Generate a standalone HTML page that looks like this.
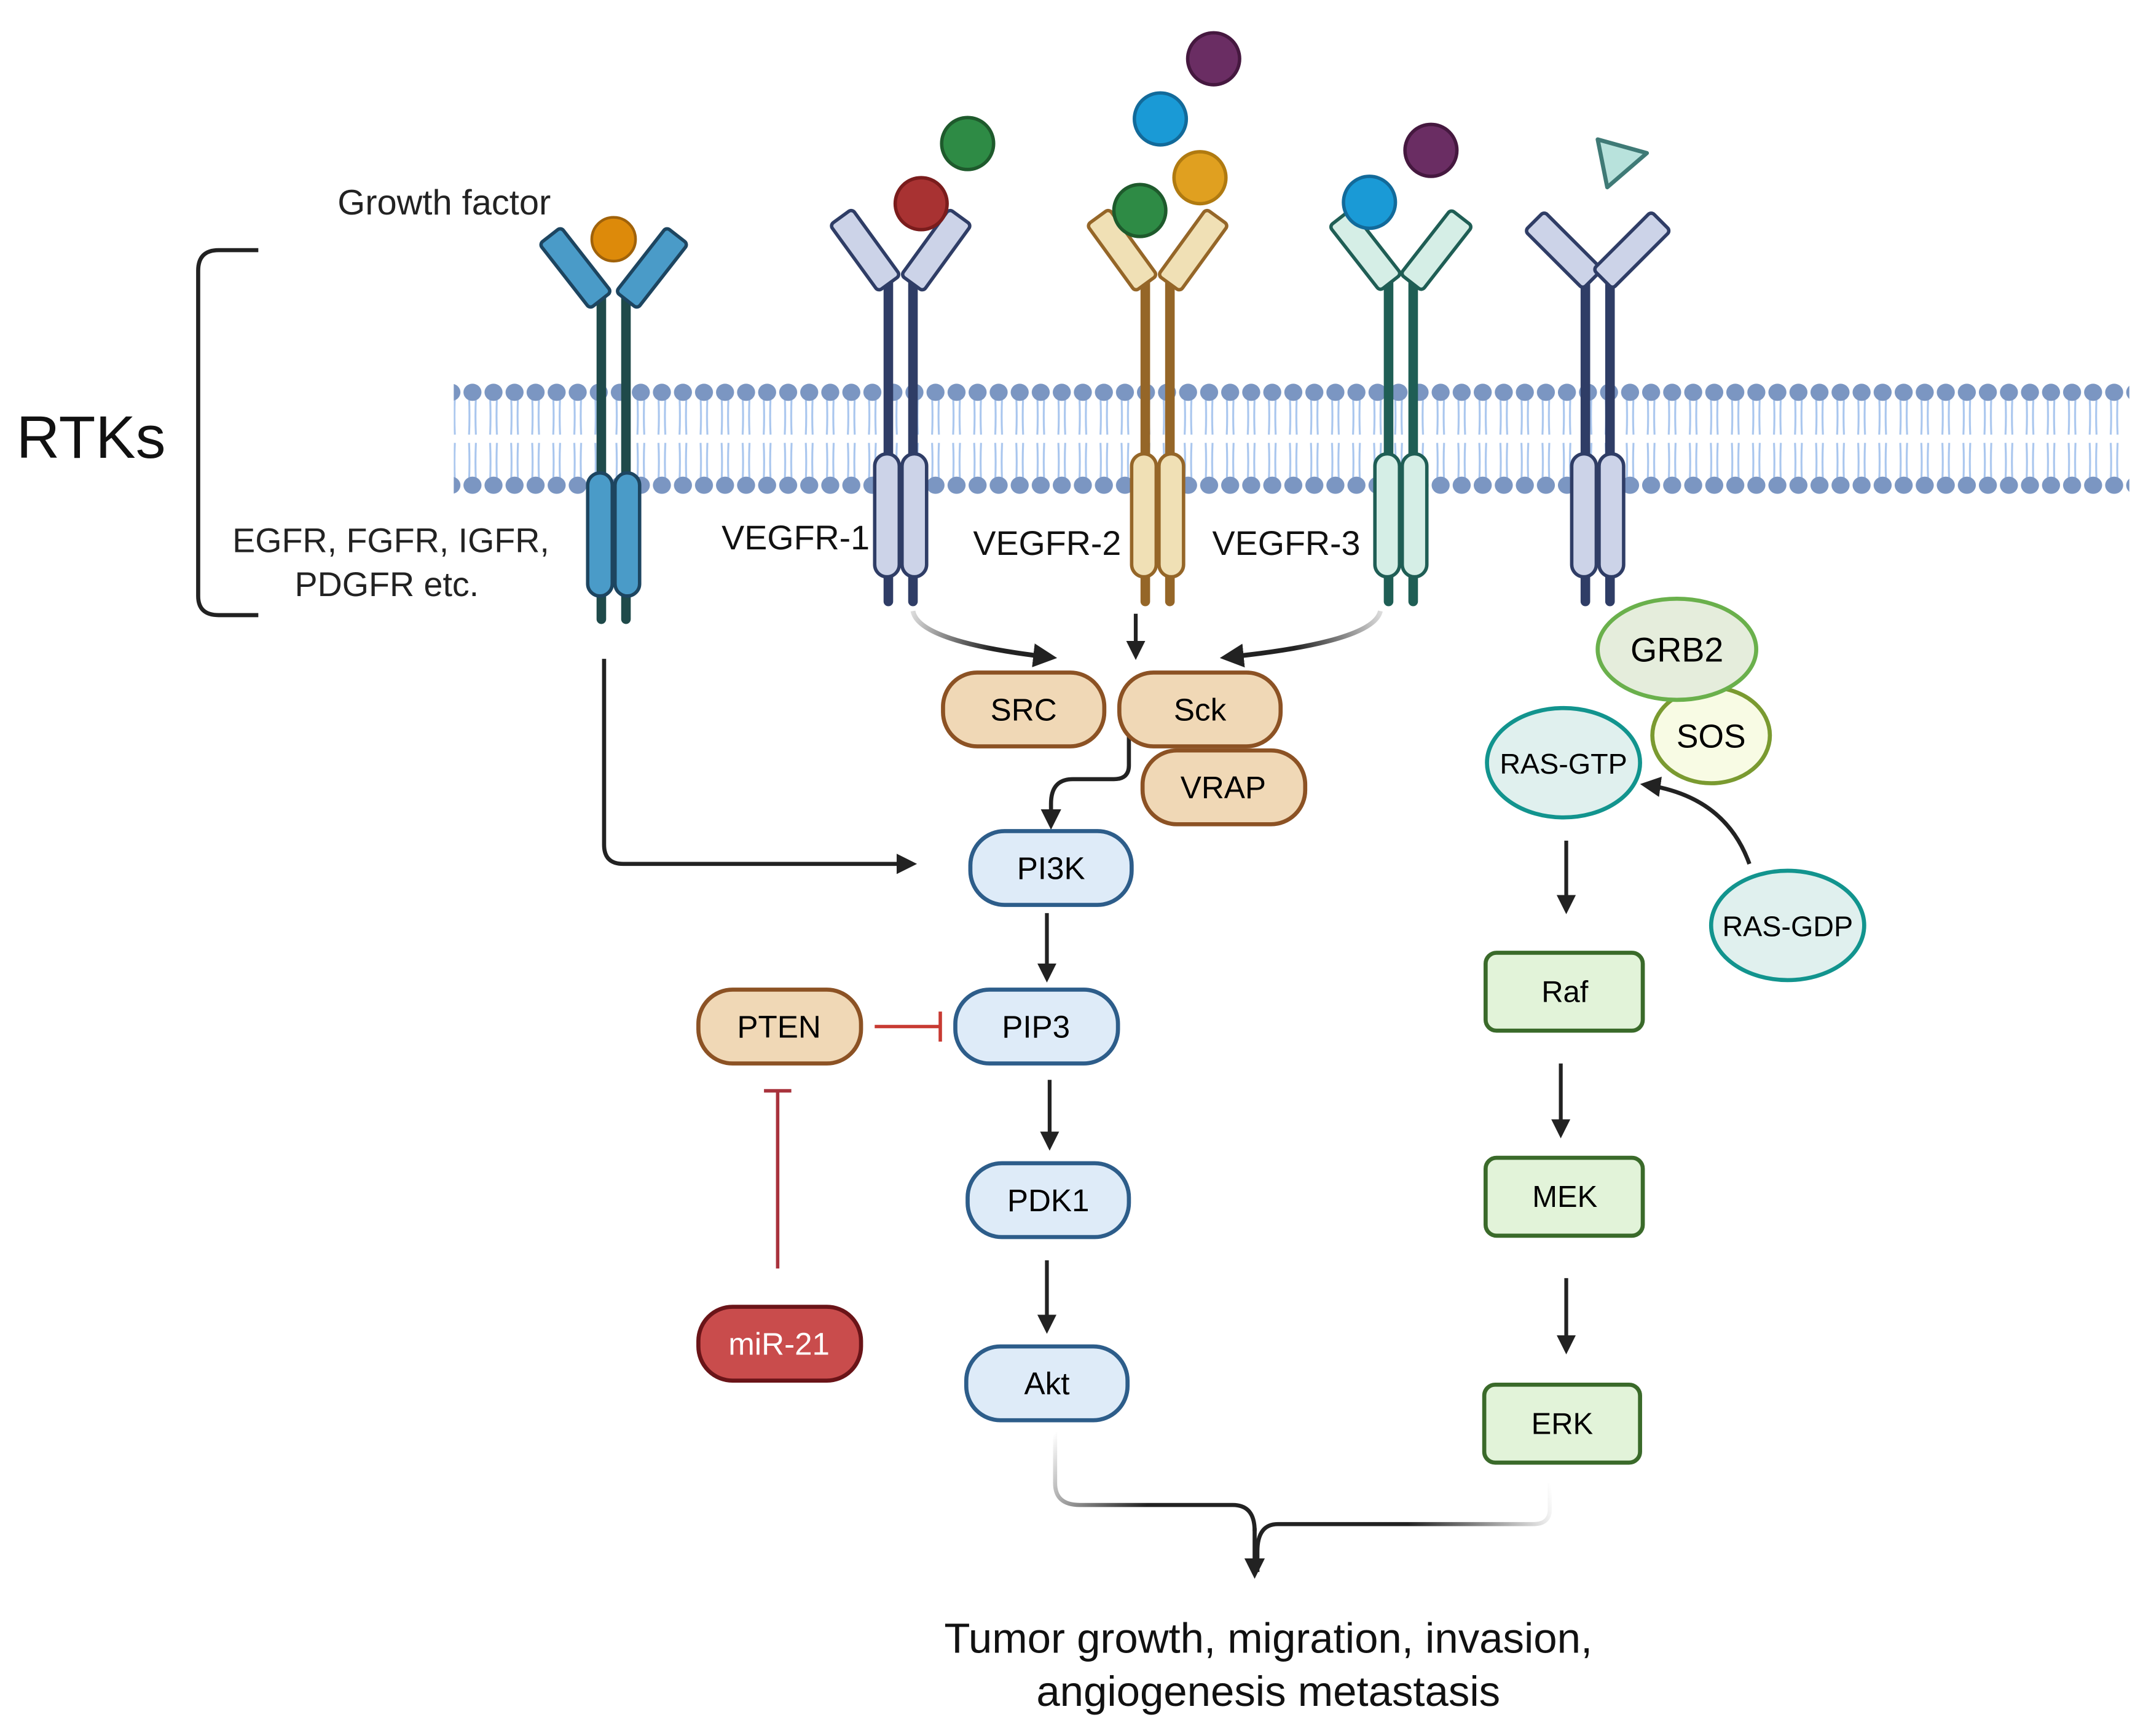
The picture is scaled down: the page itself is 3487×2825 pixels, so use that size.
<!DOCTYPE html>
<html><head><meta charset="utf-8"><style>
html,body{margin:0;padding:0;background:#fff;}
svg{display:block;}
text{font-family:"Liberation Sans",sans-serif;}
</style></head><body>
<svg width="3487" height="2825" viewBox="0 0 1568 1270" preserveAspectRatio="none" xmlns="http://www.w3.org/2000/svg">
<defs>
<pattern id="mem" x="338" y="0" width="15.4" height="1270" patternUnits="userSpaceOnUse">
<path d="M5.2 290 Q5.8 305 5.2 318 M10.2 290 Q9.6 305 10.2 318 M5.2 324 Q5.8 338 5.2 352 M10.2 324 Q9.6 338 10.2 352" stroke="#a9c6ee" stroke-width="1.4" fill="none"/>
<ellipse cx="7.7" cy="287" rx="6.6" ry="6.3" fill="#7b96c2"/>
<ellipse cx="7.7" cy="355" rx="6.6" ry="6.3" fill="#7b96c2"/>
</pattern>
<marker id="ah" viewBox="0 0 10 10" refX="8" refY="5" markerWidth="5" markerHeight="5" orient="auto" markerUnits="strokeWidth"><path d="M0 0 L10 5 L0 10 z" fill="#222"/></marker>
<linearGradient id="g1" gradientUnits="userSpaceOnUse" x1="668" y1="445" x2="770" y2="480"><stop offset="0" stop-color="#ddd"/><stop offset="0.6" stop-color="#222"/></linearGradient>
<linearGradient id="g3" gradientUnits="userSpaceOnUse" x1="1010" y1="445" x2="900" y2="480"><stop offset="0" stop-color="#ddd"/><stop offset="0.6" stop-color="#222"/></linearGradient>
<linearGradient id="ga" gradientUnits="userSpaceOnUse" x1="772" y1="1048" x2="840" y2="1100"><stop offset="0" stop-color="#fff"/><stop offset="1" stop-color="#222"/></linearGradient>
<linearGradient id="ge" gradientUnits="userSpaceOnUse" x1="1134" y1="1085" x2="1030" y2="1115"><stop offset="0" stop-color="#fff"/><stop offset="1" stop-color="#222"/></linearGradient>
</defs>
<rect width="1568" height="1270" fill="#fff"/>
<rect x="332" y="278" width="1226" height="86" fill="url(#mem)"/>

<path d="M189 183 H160 Q145 183 145 198 V436 Q145 450 160 450 H189" fill="none" stroke="#222" stroke-width="3"/>
<text x="12" y="335" font-size="44" fill="#111">RTKs</text>
<text x="247" y="157" font-size="26" fill="#222">Growth factor</text>
<text x="286" y="404" font-size="25" text-anchor="middle" fill="#222">EGFR, FGFR, IGFR,</text>
<text x="283" y="436" font-size="25" text-anchor="middle" fill="#222">PDGFR etc.</text>
<text x="528" y="402" font-size="25" fill="#111">VEGFR-1</text>
<text x="712" y="406" font-size="25" fill="#111">VEGFR-2</text>
<text x="887" y="406" font-size="25" fill="#111">VEGFR-3</text>

<g transform="translate(449,0)">
<path d="M-9 212 V453 M9 212 V453" stroke="#1f4a4a" stroke-width="7" stroke-linecap="round"/>
<g transform="translate(-28,196) rotate(-38)"><rect x="-10" y="-30" width="20" height="60" rx="3" fill="#4a9bc8" stroke="#1d4560" stroke-width="2.5"/></g>
<g transform="translate(28,196) rotate(38)"><rect x="-10" y="-30" width="20" height="60" rx="3" fill="#4a9bc8" stroke="#1d4560" stroke-width="2.5"/></g>
<rect x="-19" y="346" width="18" height="90" rx="9" fill="#4a9bc8" stroke="#1d4560" stroke-width="2.5"/>
<rect x="1" y="346" width="18" height="90" rx="9" fill="#4a9bc8" stroke="#1d4560" stroke-width="2.5"/>
</g>
<circle cx="449" cy="175" r="16" fill="#dd8a0a" stroke="#a0620a" stroke-width="2"/>

<g transform="translate(659,0)">
<path d="M-9 205 V440 M9 205 V440" stroke="#2f3d66" stroke-width="7" stroke-linecap="round"/>
<g transform="translate(-26,183) rotate(-36)"><rect x="-10" y="-30" width="20" height="60" rx="3" fill="#ccd3e8" stroke="#2f3d66" stroke-width="2.5"/></g>
<g transform="translate(26,183) rotate(36)"><rect x="-10" y="-30" width="20" height="60" rx="3" fill="#ccd3e8" stroke="#2f3d66" stroke-width="2.5"/></g>
<rect x="-19" y="332" width="18" height="90" rx="9" fill="#ccd3e8" stroke="#2f3d66" stroke-width="2.5"/>
<rect x="1" y="332" width="18" height="90" rx="9" fill="#ccd3e8" stroke="#2f3d66" stroke-width="2.5"/>
</g>
<g transform="translate(847,0)">
<path d="M-9 205 V440 M9 205 V440" stroke="#956628" stroke-width="7" stroke-linecap="round"/>
<g transform="translate(-26,183) rotate(-36)"><rect x="-10" y="-30" width="20" height="60" rx="3" fill="#f0e0b5" stroke="#956628" stroke-width="2.5"/></g>
<g transform="translate(26,183) rotate(36)"><rect x="-10" y="-30" width="20" height="60" rx="3" fill="#f0e0b5" stroke="#956628" stroke-width="2.5"/></g>
<rect x="-19" y="332" width="18" height="90" rx="9" fill="#f0e0b5" stroke="#956628" stroke-width="2.5"/>
<rect x="1" y="332" width="18" height="90" rx="9" fill="#f0e0b5" stroke="#956628" stroke-width="2.5"/>
</g>
<g transform="translate(1025,0)">
<path d="M-9 205 V440 M9 205 V440" stroke="#1f5e55" stroke-width="7" stroke-linecap="round"/>
<g transform="translate(-26,183) rotate(-38)"><rect x="-10" y="-30" width="20" height="60" rx="3" fill="#d5eee6" stroke="#1f5e55" stroke-width="2.5"/></g>
<g transform="translate(26,183) rotate(38)"><rect x="-10" y="-30" width="20" height="60" rx="3" fill="#d5eee6" stroke="#1f5e55" stroke-width="2.5"/></g>
<rect x="-19" y="332" width="18" height="90" rx="9" fill="#d5eee6" stroke="#1f5e55" stroke-width="2.5"/>
<rect x="1" y="332" width="18" height="90" rx="9" fill="#d5eee6" stroke="#1f5e55" stroke-width="2.5"/>
</g>
<g transform="translate(1169,0)">
<path d="M-9 205 V440 M9 205 V440" stroke="#2f3d66" stroke-width="7" stroke-linecap="round"/>
<g transform="translate(-25,183) rotate(-45)"><rect x="-10" y="-30" width="20" height="60" rx="3" fill="#ccd3e8" stroke="#2f3d66" stroke-width="2.5"/></g>
<g transform="translate(25,183) rotate(45)"><rect x="-10" y="-30" width="20" height="60" rx="3" fill="#ccd3e8" stroke="#2f3d66" stroke-width="2.5"/></g>
<rect x="-19" y="332" width="18" height="90" rx="9" fill="#ccd3e8" stroke="#2f3d66" stroke-width="2.5"/>
<rect x="1" y="332" width="18" height="90" rx="9" fill="#ccd3e8" stroke="#2f3d66" stroke-width="2.5"/>
</g>
<path d="M1169 102 L1205 112 L1176 137 Z" fill="#b8e2dc" stroke="#3f7a76" stroke-width="3" stroke-linejoin="round"/>

<g stroke-width="2.5">
<circle cx="674" cy="149" r="19" fill="#a83232" stroke="#7a1c1c"/>
<circle cx="708" cy="105" r="19" fill="#2e8b45" stroke="#1e5a2c"/>
<circle cx="834" cy="154" r="19" fill="#2e8b45" stroke="#1e5a2c"/>
<circle cx="878" cy="130" r="19" fill="#e0a020" stroke="#b07a10"/>
<circle cx="849" cy="87" r="19" fill="#1a9ad6" stroke="#126a9a"/>
<circle cx="888" cy="43" r="19" fill="#6a2d63" stroke="#45183f"/>
<circle cx="1002" cy="148" r="19" fill="#1a9ad6" stroke="#126a9a"/>
<circle cx="1047" cy="110" r="19" fill="#6a2d63" stroke="#45183f"/>
</g>

<path d="M668 447 Q672 470 770 481" fill="none" stroke="url(#g1)" stroke-width="3.5" marker-end="url(#ah)"/>
<path d="M831 449 V480" fill="none" stroke="#222" stroke-width="2.8" marker-end="url(#ah)"/>
<path d="M1010 447 Q1005 470 896 481" fill="none" stroke="url(#g3)" stroke-width="3.5" marker-end="url(#ah)"/>
<path d="M826 536 V560 Q826 570 815 570 H785 Q769 570 769 588 V604" fill="none" stroke="#222" stroke-width="3" marker-end="url(#ah)"/>
<path d="M442 482 V618 Q442 632 456 632 H668" fill="none" stroke="#222" stroke-width="3" marker-end="url(#ah)"/>
<path d="M766 668 V716" stroke="#222" stroke-width="2.8" marker-end="url(#ah)"/>
<path d="M768 790 V839" stroke="#222" stroke-width="2.8" marker-end="url(#ah)"/>
<path d="M766 922 V973" stroke="#222" stroke-width="2.8" marker-end="url(#ah)"/>
<path d="M640 751 H687 M688 740 V762" stroke="#c83a32" stroke-width="2.5" fill="none"/>
<path d="M569 928 V798 M559 798 H579" stroke="#a8323c" stroke-width="2.5" fill="none"/>
<path d="M1146 615 V666" stroke="#222" stroke-width="2.8" marker-end="url(#ah)"/>
<path d="M1142 778 V830" stroke="#222" stroke-width="2.8" marker-end="url(#ah)"/>
<path d="M1146 935 V988" stroke="#222" stroke-width="2.8" marker-end="url(#ah)"/>
<path d="M1280 632 Q1262 582 1203 574" fill="none" stroke="#222" stroke-width="3" marker-end="url(#ah)"/>
<path d="M772 1048 V1085 Q772 1101 790 1101 H902 Q918 1101 918 1120" fill="none" stroke="url(#ga)" stroke-width="3"/>
<path d="M1134 1085 V1104 Q1134 1115 1122 1115 H935 Q920 1115 920 1135 V1150" fill="none" stroke="url(#ge)" stroke-width="3"/>
<path d="M918 1118 V1152" stroke="#222" stroke-width="3" marker-end="url(#ah)"/>

<g stroke-width="3" font-size="23" text-anchor="middle">
<rect x="690" y="492" width="118" height="54" rx="25" fill="#f0d8b6" stroke="#8c5224"/>
<text x="749" y="527">SRC</text>
<rect x="819" y="492" width="118" height="54" rx="25" fill="#f0d8b6" stroke="#8c5224"/>
<text x="878" y="527">Sck</text>
<rect x="836" y="549" width="119" height="54" rx="25" fill="#f0d8b6" stroke="#8c5224"/>
<text x="895" y="584">VRAP</text>
<rect x="710" y="608" width="118" height="54" rx="25" fill="#deebf8" stroke="#2d5d8a"/>
<text x="769" y="643">PI3K</text>
<rect x="699" y="724" width="119" height="54" rx="25" fill="#deebf8" stroke="#2d5d8a"/>
<text x="758" y="759">PIP3</text>
<rect x="708" y="851" width="118" height="54" rx="25" fill="#deebf8" stroke="#2d5d8a"/>
<text x="767" y="886">PDK1</text>
<rect x="707" y="985" width="118" height="54" rx="25" fill="#deebf8" stroke="#2d5d8a"/>
<text x="766" y="1020">Akt</text>
<rect x="511" y="724" width="119" height="54" rx="25" fill="#f0d8b6" stroke="#8c5224"/>
<text x="570" y="759">PTEN</text>
<rect x="511" y="956" width="119" height="54" rx="25" fill="#c94c4c" stroke="#6a1418"/>
<text x="570" y="991" fill="#fff">miR-21</text>
<rect x="1087" y="697" width="115" height="57" rx="8" fill="#e2f3d9" stroke="#3a6a2a"/>
<text x="1145" y="733" font-size="22">Raf</text>
<rect x="1087" y="847" width="115" height="57" rx="8" fill="#e2f3d9" stroke="#3a6a2a"/>
<text x="1145" y="883" font-size="22">MEK</text>
<rect x="1086" y="1013" width="114" height="57" rx="8" fill="#e2f3d9" stroke="#3a6a2a"/>
<text x="1143" y="1049" font-size="22">ERK</text>
<ellipse cx="1252" cy="538" rx="43" ry="35" fill="#f8fbe4" stroke="#7a9a30"/>
<text x="1252" y="547" font-size="24">SOS</text>
<ellipse cx="1227" cy="475" rx="58" ry="37" fill="#e5eddc" stroke="#6ab04c"/>
<text x="1227" y="484" font-size="25">GRB2</text>
<ellipse cx="1144" cy="558" rx="56" ry="40" fill="#e0f0ee" stroke="#12948e"/>
<text x="1144" y="566" font-size="21">RAS-GTP</text>
<ellipse cx="1308" cy="677" rx="56" ry="40" fill="#e0f0ee" stroke="#12948e"/>
<text x="1308" y="685" font-size="21">RAS-GDP</text>
</g>

<text x="928" y="1209" font-size="31" text-anchor="middle" fill="#111">Tumor growth, migration, invasion,</text>
<text x="928" y="1248" font-size="31" text-anchor="middle" fill="#111">angiogenesis metastasis</text>
</svg>
</body></html>
